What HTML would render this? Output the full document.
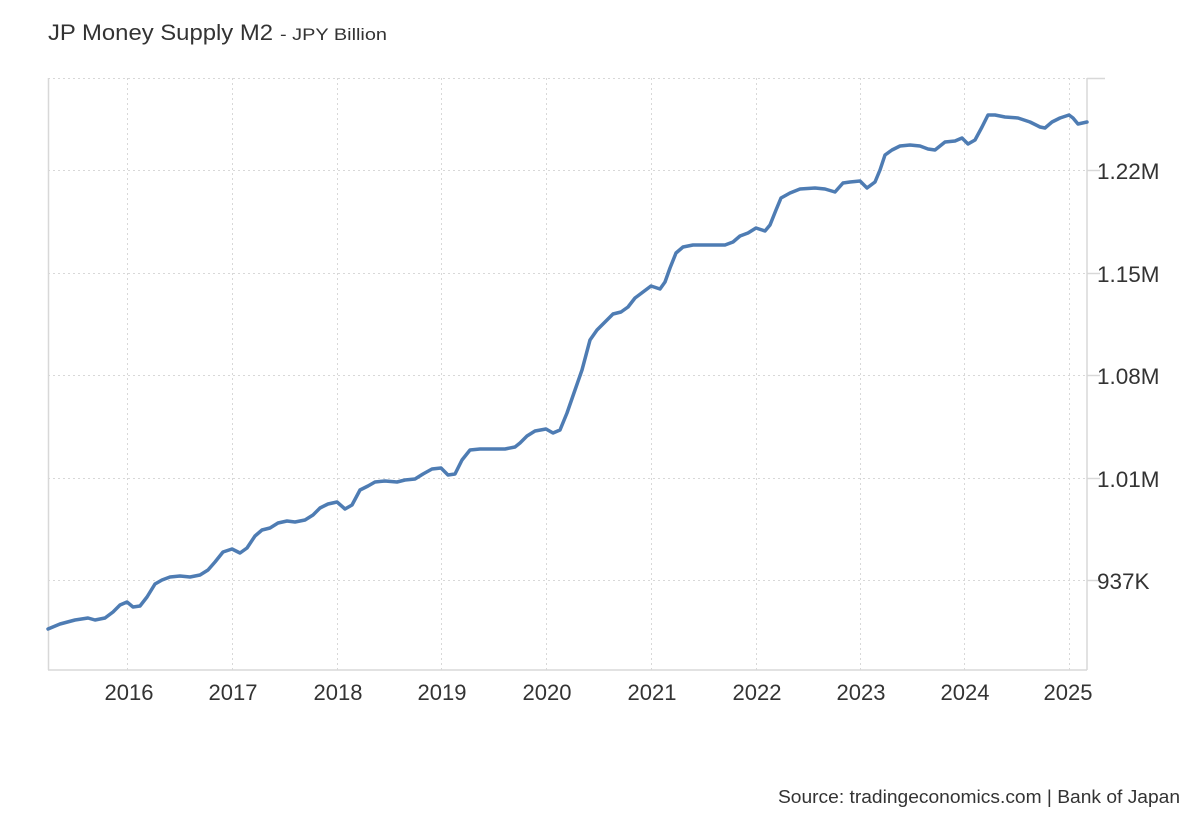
<!DOCTYPE html>
<html><head><meta charset="utf-8"><style>
body{margin:0;background:#fff;width:1200px;height:820px;overflow:hidden;font-family:"Liberation Sans",sans-serif;}
</style></head><body>
<svg width="1200" height="820" xmlns="http://www.w3.org/2000/svg" font-family="Liberation Sans, sans-serif">
<text x="48" y="40" font-size="22" fill="#333" textLength="225" lengthAdjust="spacingAndGlyphs">JP Money Supply M2</text>
<text x="280" y="40" font-size="17" fill="#333" textLength="107" lengthAdjust="spacingAndGlyphs">- JPY Billion</text>
<g stroke="#d8d8d8" stroke-width="1" stroke-dasharray="2,3">
<line x1="48" y1="78.5" x2="1087" y2="78.5"/>
<line x1="48" y1="170.5" x2="1087" y2="170.5"/>
<line x1="48" y1="273.5" x2="1087" y2="273.5"/>
<line x1="48" y1="375.5" x2="1087" y2="375.5"/>
<line x1="48" y1="478.5" x2="1087" y2="478.5"/>
<line x1="48" y1="580.5" x2="1087" y2="580.5"/>
<line x1="127.5" y1="78" x2="127.5" y2="670"/>
<line x1="232.5" y1="78" x2="232.5" y2="670"/>
<line x1="337.5" y1="78" x2="337.5" y2="670"/>
<line x1="441.5" y1="78" x2="441.5" y2="670"/>
<line x1="546.5" y1="78" x2="546.5" y2="670"/>
<line x1="651.5" y1="78" x2="651.5" y2="670"/>
<line x1="756.5" y1="78" x2="756.5" y2="670"/>
<line x1="860.5" y1="78" x2="860.5" y2="670"/>
<line x1="964.5" y1="78" x2="964.5" y2="670"/>
<line x1="1069.5" y1="78" x2="1069.5" y2="670"/>
</g>
<g stroke="#d8d8d8" stroke-width="1.5">
<line x1="48" y1="670" x2="1087" y2="670"/>
<line x1="48.5" y1="78" x2="48.5" y2="670"/>
<line x1="1087" y1="78" x2="1087" y2="670"/>
<line x1="1087" y1="78.5" x2="1105" y2="78.5"/>
<line x1="1087" y1="170.5" x2="1100" y2="170.5"/>
<line x1="1087" y1="273.5" x2="1100" y2="273.5"/>
<line x1="1087" y1="375.5" x2="1100" y2="375.5"/>
<line x1="1087" y1="478.5" x2="1100" y2="478.5"/>
<line x1="1087" y1="580.5" x2="1100" y2="580.5"/>
</g>
<g font-size="22.5" fill="#333">
<text x="1097" y="179">1.22M</text>
<text x="1097" y="282">1.15M</text>
<text x="1097" y="384">1.08M</text>
<text x="1097" y="487">1.01M</text>
<text x="1097" y="589">937K</text>
</g>
<g font-size="22" fill="#333" text-anchor="middle">
<text x="129" y="700">2016</text><text x="233" y="700">2017</text><text x="338" y="700">2018</text>
<text x="442" y="700">2019</text><text x="547" y="700">2020</text><text x="652" y="700">2021</text>
<text x="757" y="700">2022</text><text x="861" y="700">2023</text><text x="965" y="700">2024</text>
<text x="1068" y="700">2025</text>
</g>
<polyline fill="none" stroke="#4e7cb3" stroke-width="3.5" stroke-linejoin="round" stroke-linecap="round" points="48,629 60,624 75,620 88,618 95,620 105,618 113,612 120,605 127,602 133,607 140,606 147,597 155,584 162,580 170,577 180,576 190,577 200,575 208,570 215,562 223,552 232,549 240,553 247,548 255,536 262,530 270,528 278,523 287,521 295,522 305,520 313,515 320,508 328,504 337,502 345,509 352,505 360,490 368,486 375,482 385,481 397,482 405,480 415,479 423,474 432,469 441,468 448,475 455,474 462,460 470,450 480,449 495,449 505,449 515,447 520,443 527,436 535,431 546,429 553,433 560,430 567,413 575,390 582,370 590,340 597,330 605,322 613,314 621,312 628,307 635,298 643,292 651,286 660,289 665,282 670,268 676,253 683,247 693,245 710,245 725,245 733,242 740,236 748,233 756,228 765,231 770,225 776,210 781,198 790,193 800,189 815,188 825,189 835,192 843,183 850,182 860,181 867,188 875,182 880,170 885,155 892,150 900,146 910,145 920,146 928,149 935,150 945,142 955,141 962,138 968,144 975,140 982,127 988,115 995,115 1005,117 1018,118 1030,122 1040,127 1045,128 1052,122 1060,118 1069,115 1073,118 1078,124 1087,122"/>
<text x="778" y="803" font-size="18" fill="#333" textLength="402" lengthAdjust="spacingAndGlyphs">Source: tradingeconomics.com | Bank of Japan</text>
</svg>
</body></html>
